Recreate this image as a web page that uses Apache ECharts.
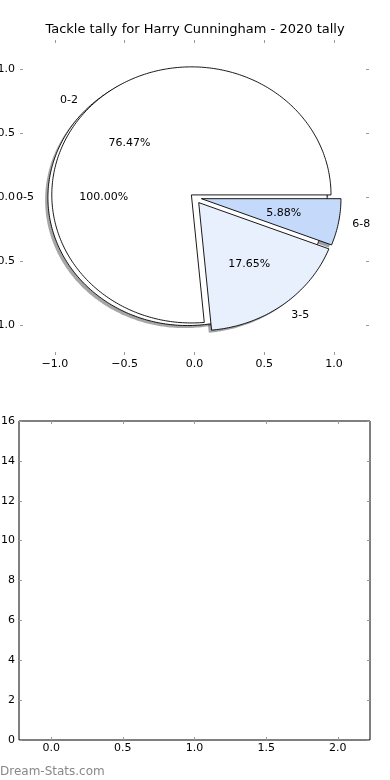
<!DOCTYPE html>
<html><head><meta charset="utf-8">
<style>html,body{margin:0;padding:0;background:#fff}#chart{width:390px;height:780px}</style>
<script src="https://cdn.jsdelivr.net/npm/echarts@6/dist/echarts.min.js"></script>
</head><body><div id="chart"></div>
<script>
// ---- data ----
const titleText = 'Tackle tally for Harry Cunningham - 2020 tally';
const outerCategories = ['0-5'];
const outerValues = [17];
const categories = ['0-2', '3-5', '6-8'];
const values = [13, 3, 1];
const pieTicks = [-1.0, -0.5, 0.0, 0.5, 1.0];
const barXTicks = [0.0, 0.5, 1.0, 1.5, 2.0];
const barYTicks = [0, 2, 4, 6, 8, 10, 12, 14, 16];
const watermark = 'Dream-Stats.com';

// ---- style ----
const FONT = '"DejaVu Sans", sans-serif';
const outerColors = ['#ffffff'];
const innerColors = ['#ffffff', '#e9f0fd', '#c5d9fa'];
const outerExplode = [0.05];
const innerExplode = [0.03, 0.05, 0.05];
const SHADOW_OFF = [-0.02, -0.02];
const TICK_COLOR = '#9a9a9a';

function wedges(vals, explode) {
  const total = vals.reduce((a, b) => a + b, 0);
  let a = 0;
  return vals.map((v, i) => {
    const t1 = a, t2 = a + 360 * v / total; a = t2;
    const mid = (t1 + t2) / 2 * Math.PI / 180;
    const e = explode[i] || 0;
    return { t1, t2, mid, cx: e * Math.cos(mid), cy: e * Math.sin(mid), frac: v / total };
  });
}
const outerW = wedges(outerValues, outerExplode);
const innerW = wedges(values, innerExplode);

function wedgePoints(api, w, dx, dy) {
  const pts = [];
  const full = (w.t2 - w.t1) >= 359.999;
  if (!full) pts.push(api.coord([w.cx + dx, w.cy + dy]));
  const n = Math.max(2, Math.ceil((w.t2 - w.t1) / 1));
  for (let k = 0; k <= n; k++) {
    const t = (w.t1 + (w.t2 - w.t1) * k / n) * Math.PI / 180;
    pts.push(api.coord([w.cx + dx + Math.cos(t), w.cy + dy + Math.sin(t)]));
  }
  return pts;
}
function shadowColor(hex) {
  const r = parseInt(hex.slice(1, 3), 16), g = parseInt(hex.slice(3, 5), 16), b = parseInt(hex.slice(5, 7), 16);
  return 'rgba(' + Math.round(r * 0.3) + ',' + Math.round(g * 0.3) + ',' + Math.round(b * 0.3) + ',0.5)';
}

function shadowSeries(W, colors, vals, z) {
  return {
    type: 'custom', coordinateSystem: 'cartesian2d', xAxisIndex: 0, yAxisIndex: 0, z: z, silent: true,
    data: vals.map((v, i) => [i, v]),
    renderItem: (params, api) => {
      const w = W[params.dataIndex];
      return { type: 'polygon', shape: { points: wedgePoints(api, w, SHADOW_OFF[0], SHADOW_OFF[1]) },
        style: { fill: shadowColor(colors[params.dataIndex]), stroke: null } };
    }
  };
}
function wedgeSeries(W, colors, vals, z) {
  return {
    type: 'custom', coordinateSystem: 'cartesian2d', xAxisIndex: 0, yAxisIndex: 0, z: z, silent: true,
    data: vals.map((v, i) => [i, v]),
    renderItem: (params, api) => {
      const w = W[params.dataIndex];
      return { type: 'polygon', shape: { points: wedgePoints(api, w, 0, 0) },
        style: { fill: colors[params.dataIndex], stroke: '#000', lineWidth: 0.9, lineJoin: 'miter' } };
    }
  };
}
function labelSeries(W, cats, vals, z) {
  return {
    type: 'custom', coordinateSystem: 'cartesian2d', xAxisIndex: 0, yAxisIndex: 0, z: z, silent: true,
    data: vals.map((v, i) => [i, v]),
    renderItem: (params, api) => {
      const i = params.dataIndex, w = W[i];
      const c = Math.cos(w.mid), s = Math.sin(w.mid);
      const lp = api.coord([w.cx + 1.1 * c, w.cy + 1.1 * s]);
      const pp = api.coord([w.cx + 0.6 * c, w.cy + 0.6 * s]);
      return { type: 'group', children: [
        { type: 'text', x: lp[0], y: lp[1], style: { text: cats[i], font: '11px ' + FONT, fill: '#000',
          align: c > 0 ? 'left' : 'right', verticalAlign: 'middle' } },
        { type: 'text', x: pp[0], y: pp[1], style: { text: (w.frac * 100).toFixed(2) + '%', font: '11px ' + FONT, fill: '#000',
          align: 'center', verticalAlign: 'middle' } }
      ] };
    }
  };
}

const fmtPie = v => (v < 0 ? '\u2212' : '') + Math.abs(v).toFixed(1);
function tick(values) {
  return { show: true, inside: true, length: 3, customValues: values, lineStyle: { color: TICK_COLOR, width: 1 } };
}
function ax(grid, pos, min, max, ticks, labels, fmt, margin, pad) {
  return { type: 'value', gridIndex: grid, position: pos, min, max,
    axisLine: { show: false, onZero: false }, splitLine: { show: false }, axisTick: tick(ticks),
    axisLabel: labels ? { show: true, customValues: ticks, formatter: fmt, margin: margin, color: '#000',
      fontFamily: FONT, fontSize: 11, padding: pad || 0 } : { show: false } };
}

const chart = echarts.init(document.getElementById('chart'), null, { renderer: 'canvas' });
chart.setOption({
  backgroundColor: '#fff',
  animation: false,
  title: { text: titleText, left: 'center', top: 23, padding: 0,
    textStyle: { fontFamily: FONT, fontSize: 13, fontWeight: 'normal', color: '#000' } },
  grid: [
    { left: 20, top: 40, width: 349, height: 315, show: false, containLabel: false, outerBoundsMode: 'none' },
    { left: 19, top: 421, width: 351, height: 319, show: true, borderColor: '#000', borderWidth: 1,
      backgroundColor: 'transparent', containLabel: false, outerBoundsMode: 'none' }
  ],
  xAxis: [
    ax(0, 'bottom', -1.25, 1.25, pieTicks, true, fmtPie, 4),
    ax(0, 'top', -1.25, 1.25, pieTicks, false),
    ax(1, 'bottom', -0.225, 2.225, barXTicks, true, v => v.toFixed(1), 3),
    ax(1, 'top', -0.225, 2.225, barXTicks, false)
  ],
  yAxis: [
    ax(0, 'left', -1.23, 1.23, pieTicks, true, fmtPie, 5, [3, 0, 0, 0]),
    ax(0, 'right', -1.23, 1.23, pieTicks, false),
    ax(1, 'left', 0, 16, barYTicks, true, v => String(v), 4, [2, 0, 0, 0]),
    ax(1, 'right', 0, 16, barYTicks, false)
  ],
  graphic: [
    { type: 'text', left: 0, top: 766, style: { text: watermark, font: '12px ' + FONT, fill: '#888888' } }
  ],
  series: [
    shadowSeries(outerW, outerColors, outerValues, 1),
    shadowSeries(innerW, innerColors, values, 1),
    wedgeSeries(outerW, outerColors, outerValues, 2),
    wedgeSeries(innerW, innerColors, values, 3),
    labelSeries(outerW, outerCategories, outerValues, 4),
    labelSeries(innerW, categories, values, 4),
    { type: 'scatter', xAxisIndex: 2, yAxisIndex: 2, data: [], silent: true }
  ]
});
</script>
</body></html>
